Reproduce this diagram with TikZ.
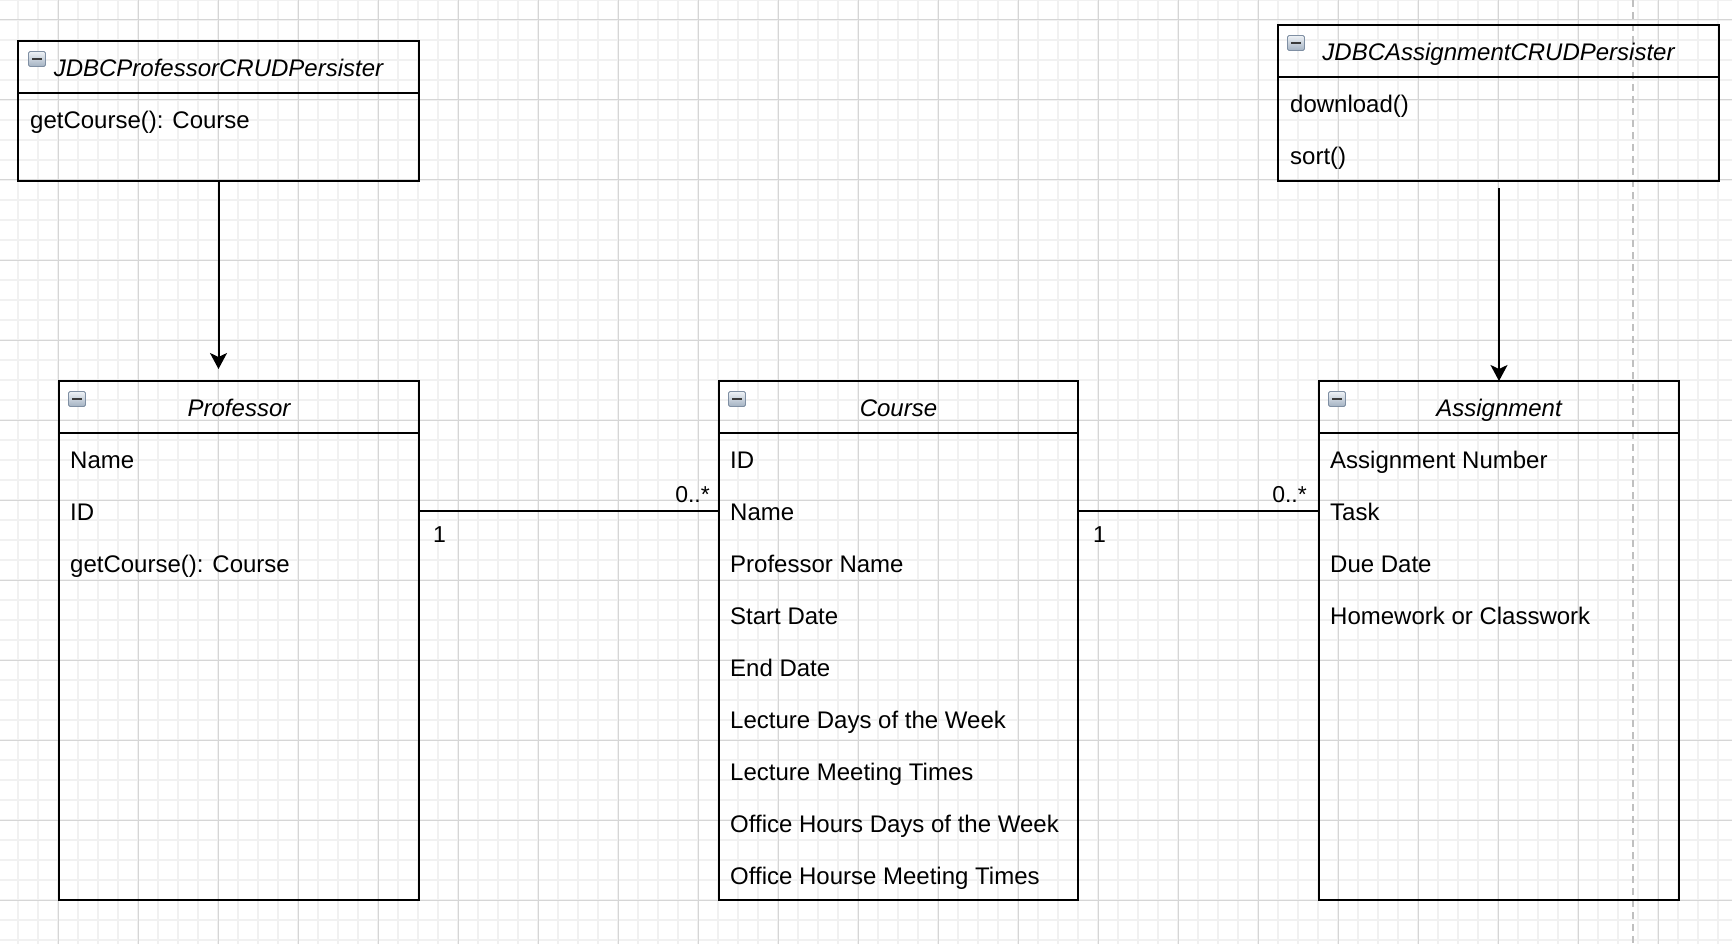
\documentclass[tikz,border=0pt]{standalone}
\usepackage{fontspec}
\setmainfont{Liberation Sans}
\usetikzlibrary{arrows.meta,calc}
\definecolor{gridminor}{HTML}{F1F1F1}
\definecolor{gridmajor}{HTML}{D6D6D6}
\definecolor{pagebreak}{HTML}{C0C0C0}
\definecolor{iconedge}{HTML}{7F8FA3}
\definecolor{icontop}{HTML}{EEF2F6}
\definecolor{iconbot}{HTML}{A4B2C2}
\definecolor{iconbar}{HTML}{3A3A3A}
\begin{document}
\begin{tikzpicture}[x=1pt,y=-1pt,
  every node/.style={font=\fontsize{24}{28}\selectfont},
  classbox/.style={draw=black,line width=2pt,rectangle,inner sep=0pt,outer sep=0pt,anchor=north west},
  sepline/.style={draw=black,line width=2pt},
  titletext/.style={anchor=base,inner sep=0pt,font=\fontsize{24}{28}\selectfont\itshape},
  itemtext/.style={anchor=base west,inner sep=0pt},
  multtext/.style={inner sep=0pt,font=\fontsize{23}{27}\selectfont},
  assoc/.style={draw=black,line width=2pt},
  arr/.style={draw=black,line width=2pt,-{Stealth[length=16pt,width=17pt,inset=4pt]}},
  collapse/.style={draw=iconedge,line width=0.8pt,rounded corners=1.5pt,top color=icontop,bottom color=iconbot,
    minimum width=17pt,minimum height=15pt,inner sep=0pt,outer sep=0pt,
    path picture={\draw[iconbar,line width=2.6pt] ([xshift=3.5pt]path picture bounding box.west) -- ([xshift=-3.5pt]path picture bounding box.east);}}
]
\useasboundingbox (0,0) rectangle (1732,944);
\fill[white] (0,0) rectangle (1732,944);
% grid
\foreach \x in {-2,18,...,1738} \draw[gridminor,line width=1.6pt] (\x,0) -- (\x,944);
\foreach \y in {0,20,...,940} \draw[gridminor,line width=1.6pt] (0,\y) -- (1732,\y);
\foreach \x in {58,138,...,1738} \draw[gridmajor,line width=1pt] (\x,0) -- (\x,944);
\foreach \y in {20,100,...,940} \draw[gridmajor,line width=1pt] (0,\y) -- (1732,\y);
% page break
\draw[pagebreak,line width=2pt,dash pattern=on 7pt off 5pt] (1633,0) -- (1633,944);

% JDBCProfessorCRUDPersister
\node[classbox,minimum width=401pt,minimum height=140pt] (jp) at (18,41) {};
\draw[sepline] ([yshift=-52pt]jp.north west) -- ([yshift=-52pt]jp.north east);
\node[collapse] (jpi) at ([xshift=19pt,yshift=-18pt]jp.north west) {};
\node[titletext] (jpt) at ([yshift=-36pt]jp.north) {JDBCProfessorCRUDPersister};
\node[itemtext] (jp1) at (30,129) {getCourse(): Course};

% JDBCAssignmentCRUDPersister
\node[classbox,minimum width=441pt,minimum height=156pt] (ja) at (1278,25) {};
\draw[sepline] ([yshift=-52pt]ja.north west) -- ([yshift=-52pt]ja.north east);
\node[collapse] (jai) at ([xshift=18pt,yshift=-18pt]ja.north west) {};
\node[titletext] (jat) at ([yshift=-36pt]ja.north) {JDBCAssignmentCRUDPersister};
\node[itemtext] (ja1) at (1290,113) {download()};
\node[itemtext] (ja2) at (1290,165) {sort()};

% Professor
\node[classbox,minimum width=360pt,minimum height=519pt] (pr) at (59,381) {};
\draw[sepline] ([yshift=-52pt]pr.north west) -- ([yshift=-52pt]pr.north east);
\node[collapse] (pri) at ([xshift=18pt,yshift=-18pt]pr.north west) {};
\node[titletext] (prt) at ([yshift=-35pt]pr.north) {Professor};
\node[itemtext] (pr1) at (70,468) {Name};
\node[itemtext] (pr2) at (70,520) {ID};
\node[itemtext] (pr3) at (70,572) {getCourse(): Course};

% Course
\node[classbox,minimum width=359pt,minimum height=519pt] (co) at (719,381) {};
\draw[sepline] ([yshift=-52pt]co.north west) -- ([yshift=-52pt]co.north east);
\node[collapse] (coi) at ([xshift=18pt,yshift=-18pt]co.north west) {};
\node[titletext] (cot) at ([yshift=-35pt]co.north) {Course};
\node[itemtext] (co1) at (730,468) {ID};
\node[itemtext] (co2) at (730,520) {Name};
\node[itemtext] (co3) at (730,572) {Professor Name};
\node[itemtext] (co4) at (730,624) {Start Date};
\node[itemtext] (co5) at (730,676) {End Date};
\node[itemtext] (co6) at (730,728) {Lecture Days of the Week};
\node[itemtext] (co7) at (730,780) {Lecture Meeting Times};
\node[itemtext] (co8) at (730,832) {Office Hours Days of the Week};
\node[itemtext] (co9) at (730,884) {Office Hourse Meeting Times};

% Assignment
\node[classbox,minimum width=360pt,minimum height=519pt] (as) at (1319,381) {};
\draw[sepline] ([yshift=-52pt]as.north west) -- ([yshift=-52pt]as.north east);
\node[collapse] (asi) at ([xshift=18pt,yshift=-18pt]as.north west) {};
\node[titletext] (ast) at ([yshift=-35pt]as.north) {Assignment};
\node[itemtext] (as1) at (1330,468) {Assignment Number};
\node[itemtext] (as2) at (1330,520) {Task};
\node[itemtext] (as3) at (1330,572) {Due Date};
\node[itemtext] (as4) at (1330,624) {Homework or Classwork};

% associations
\draw[assoc] ([yshift=-130pt]pr.north east) -- ([yshift=-130pt]co.north west);
\draw[assoc] ([yshift=-130pt]co.north east) -- ([yshift=-130pt]as.north west);
\node[multtext,anchor=base west] (m1) at (433,542) {1};
\node[multtext,anchor=base east] (m2) at (710,502) {0..*};
\node[multtext,anchor=base west] (m3) at (1093,542) {1};
\node[multtext,anchor=base east] (m4) at (1307,502) {0..*};

% dependencies
\draw[arr] (jp.south) -- ([yshift=12pt]jp.south |- pr.north);
\draw[arr] ([yshift=-7pt]as.north |- ja.south) -- (as.north);
\end{tikzpicture}
\end{document}
